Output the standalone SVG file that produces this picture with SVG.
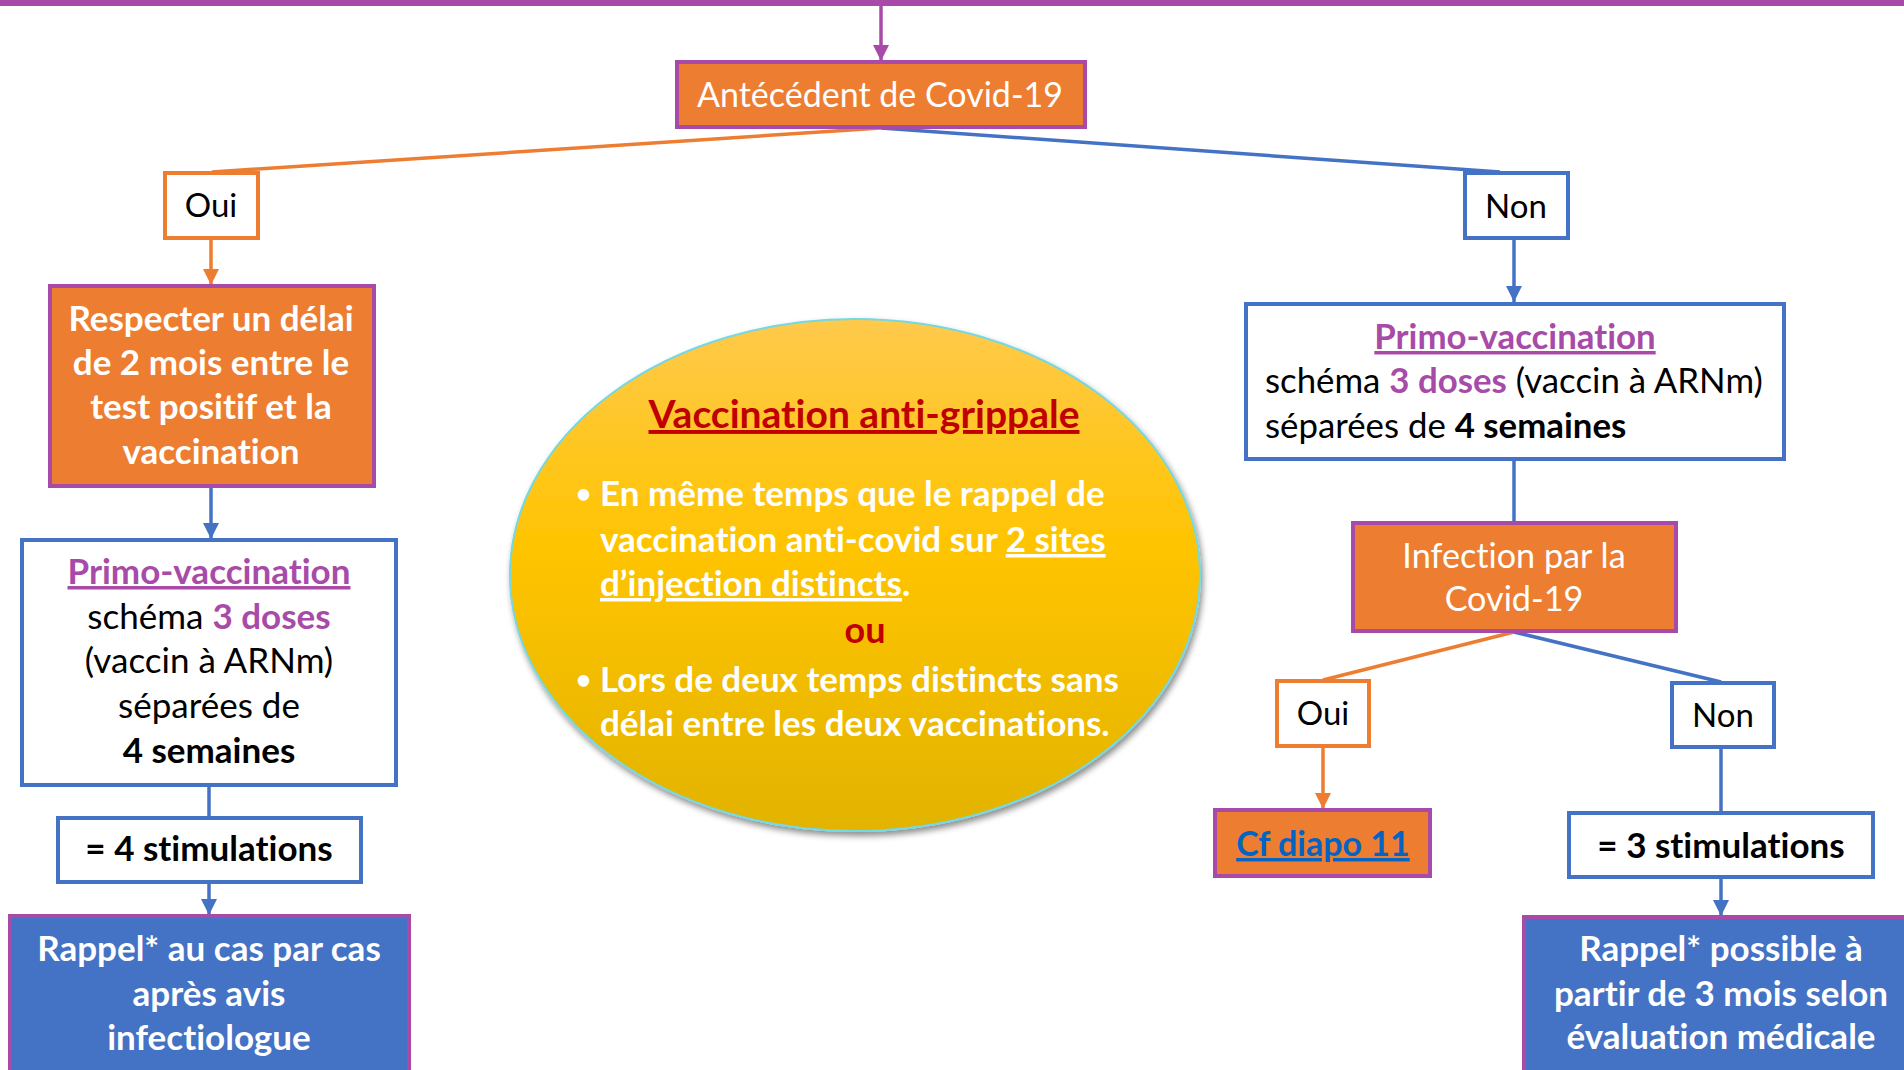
<svg xmlns="http://www.w3.org/2000/svg" width="1904" height="1070" viewBox="0 0 1904 1070">
<defs>
<style>
.t{font-family:Lato,"Open Sans","Liberation Sans",sans-serif;font-variant-ligatures:none;font-feature-settings:"liga" 0,"clig" 0}
.b{font-weight:bold}
.w{fill:#FFFFFF}
.k{fill:#000000}
.pu{fill:#A84BA8}
.orangeBox{fill:#ED7D31;stroke:#A84BA8;stroke-width:4}
.blueBox{fill:#4472C4;stroke:#A84BA8;stroke-width:4}
.whiteBlue{fill:#FFFFFF;stroke:#4472C4;stroke-width:4}
.whiteOrange{fill:#FFFFFF;stroke:#ED7D31;stroke-width:4}
.cO{stroke:#ED7D31;stroke-width:3.5;fill:none}
.cB{stroke:#4472C4;stroke-width:3.5;fill:none}
.cP{stroke:#A84BA8;stroke-width:3.5;fill:none}
</style>
<marker id="aO" markerUnits="userSpaceOnUse" markerWidth="16" markerHeight="16" viewBox="0 0 16 16" refX="16" refY="8" orient="auto"><path d="M0,0 L16,8 L0,16 Z" fill="#ED7D31"/></marker>
<marker id="aB" markerUnits="userSpaceOnUse" markerWidth="16" markerHeight="16" viewBox="0 0 16 16" refX="16" refY="8" orient="auto"><path d="M0,0 L16,8 L0,16 Z" fill="#4472C4"/></marker>
<marker id="aP" markerUnits="userSpaceOnUse" markerWidth="16" markerHeight="16" viewBox="0 0 16 16" refX="16" refY="8" orient="auto"><path d="M0,0 L16,8 L0,16 Z" fill="#A84BA8"/></marker>
<linearGradient id="yg" x1="0" y1="0" x2="0" y2="1">
<stop offset="0" stop-color="#FFC94C"/>
<stop offset="0.45" stop-color="#FFC400"/>
<stop offset="1" stop-color="#E2B300"/>
</linearGradient>
<filter id="sh" x="-10%" y="-10%" width="125%" height="130%">
<feDropShadow dx="2" dy="4" stdDeviation="3" flood-color="#000000" flood-opacity="0.45"/>
</filter>
</defs>
<rect x="0" y="0" width="1904" height="1070" fill="#FFFFFF"/>
<rect x="0" y="0" width="1904" height="6" fill="#A84BA8"/>

<g id="connectors">
<line class="cP" x1="881" y1="6" x2="881" y2="61" marker-end="url(#aP)"/>
<polyline class="cO" points="881,128 212,172"/>
<polyline class="cB" points="881,128 1500,172"/>
<line class="cO" x1="211" y1="238" x2="211" y2="285" marker-end="url(#aO)"/>
<line class="cB" x1="1514" y1="238" x2="1514" y2="302" marker-end="url(#aB)"/>
<line class="cB" x1="211" y1="487" x2="211" y2="539" marker-end="url(#aB)"/>
<line class="cB" x1="209" y1="785" x2="209" y2="817"/>
<line class="cB" x1="209" y1="883" x2="209" y2="915" marker-end="url(#aB)"/>
<line class="cB" x1="1514" y1="459" x2="1514" y2="522"/>
<polyline class="cO" points="1514,632 1323,680"/>
<polyline class="cB" points="1514,632 1721,682"/>
<line class="cO" x1="1323" y1="747" x2="1323" y2="809" marker-end="url(#aO)"/>
<line class="cB" x1="1721" y1="748" x2="1721" y2="812"/>
<line class="cB" x1="1721" y1="878" x2="1721" y2="916" marker-end="url(#aB)"/>
</g>

<g id="antecedent">
<rect class="orangeBox" x="677" y="62" width="408" height="65"/>
<text class="t w" x="880" y="107" font-size="34" text-anchor="middle">Antécédent de Covid-19</text>
</g>

<g id="oui1">
<rect class="whiteOrange" x="165" y="173" width="93" height="65"/>
<text class="t k" x="211" y="217" font-size="33" text-anchor="middle">Oui</text>
</g>

<g id="non1">
<rect class="whiteBlue" x="1465" y="173" width="103" height="65"/>
<text class="t k" x="1516" y="218" font-size="33" text-anchor="middle">Non</text>
</g>

<g id="respecter">
<rect class="orangeBox" x="50" y="286" width="324" height="200"/>
<text class="t b w" font-size="35" text-anchor="middle"><tspan x="211" y="331">Respecter un délai</tspan><tspan x="211" y="375">de 2 mois entre le</tspan><tspan x="211" y="419">test positif et la</tspan><tspan x="211" y="464">vaccination</tspan></text>
</g>

<g id="primo-left">
<rect class="whiteBlue" x="22" y="540" width="374" height="245"/>
<text class="t k" font-size="35" text-anchor="middle"><tspan x="209" y="584" class="b pu" text-decoration="underline">Primo-vaccination</tspan><tspan x="209" y="629">schéma <tspan class="b pu">3 doses</tspan></tspan><tspan x="209" y="673">(vaccin à ARNm)</tspan><tspan x="209" y="718">séparées de</tspan><tspan x="209" y="763" class="b">4 semaines</tspan></text>
</g>

<g id="stim4">
<rect class="whiteBlue" x="58" y="818" width="303" height="64"/>
<text class="t b k" x="209" y="861" font-size="35" text-anchor="middle">= 4 stimulations</text>
</g>

<g id="rappel-left">
<rect class="blueBox" x="10" y="916" width="399" height="170"/>
<text class="t b w" font-size="35" text-anchor="middle"><tspan x="209" y="961">Rappel* au cas par cas</tspan><tspan x="209" y="1006">après avis</tspan><tspan x="209" y="1050">infectiologue</tspan></text>
</g>

<g id="grippe">
<ellipse cx="855" cy="575" rx="345" ry="256" fill="url(#yg)" stroke="#74D8E2" stroke-width="2" filter="url(#sh)"/>
<text class="t b" x="864" y="428" font-size="39" text-anchor="middle" fill="#C00000" text-decoration="underline">Vaccination anti-grippale</text>
<text class="t b w" font-size="26"><tspan x="576" y="503">•</tspan><tspan x="576" y="689">•</tspan></text>
<text class="t b w" font-size="35"><tspan x="600" y="506">En même temps que le rappel de</tspan><tspan x="600" y="552">vaccination anti-covid sur <tspan text-decoration="underline">2 sites</tspan></tspan><tspan x="600" y="596"><tspan text-decoration="underline">d’injection distincts</tspan>.</tspan><tspan x="600" y="692">Lors de deux temps distincts sans</tspan><tspan x="600" y="736">délai entre les deux vaccinations.</tspan></text>
<text class="t b" x="865" y="643" font-size="36" text-anchor="middle" fill="#C00000">ou</text>
</g>

<g id="primo-right">
<rect class="whiteBlue" x="1246" y="304" width="538" height="155"/>
<text class="t k" font-size="34.8"><tspan x="1515" y="349" class="b pu" text-anchor="middle" text-decoration="underline">Primo-vaccination</tspan><tspan x="1265" y="393">schéma <tspan class="b pu">3 doses</tspan> (vaccin à ARNm)</tspan><tspan x="1265" y="438">séparées de <tspan class="b">4 semaines</tspan></tspan></text>
</g>

<g id="infection">
<rect class="orangeBox" x="1353" y="523" width="323" height="108"/>
<text class="t w" font-size="34.2" text-anchor="middle"><tspan x="1514" y="568">Infection par la</tspan><tspan x="1514" y="611">Covid-19</tspan></text>
</g>

<g id="oui2">
<rect class="whiteOrange" x="1277" y="681" width="92" height="65"/>
<text class="t k" x="1323" y="725" font-size="33" text-anchor="middle">Oui</text>
</g>

<g id="non2">
<rect class="whiteBlue" x="1672" y="683" width="102" height="64"/>
<text class="t k" x="1723" y="727" font-size="33" text-anchor="middle">Non</text>
</g>

<g id="cfdiapo">
<rect class="orangeBox" x="1215" y="810" width="215" height="66"/>
<text class="t b" x="1323" y="856" font-size="34" text-anchor="middle" fill="#0563C1" text-decoration="underline">Cf diapo 11</text>
</g>

<g id="stim3">
<rect class="whiteBlue" x="1569" y="813" width="304" height="64"/>
<text class="t b k" x="1721" y="858" font-size="35" text-anchor="middle">= 3 stimulations</text>
</g>

<g id="rappel-right">
<rect class="blueBox" x="1524" y="917" width="400" height="170"/>
<text class="t b w" font-size="35" text-anchor="middle"><tspan x="1721" y="961">Rappel* possible à</tspan><tspan x="1721" y="1006">partir de 3 mois selon</tspan><tspan x="1721" y="1049">évaluation médicale</tspan></text>
</g>
</svg>
